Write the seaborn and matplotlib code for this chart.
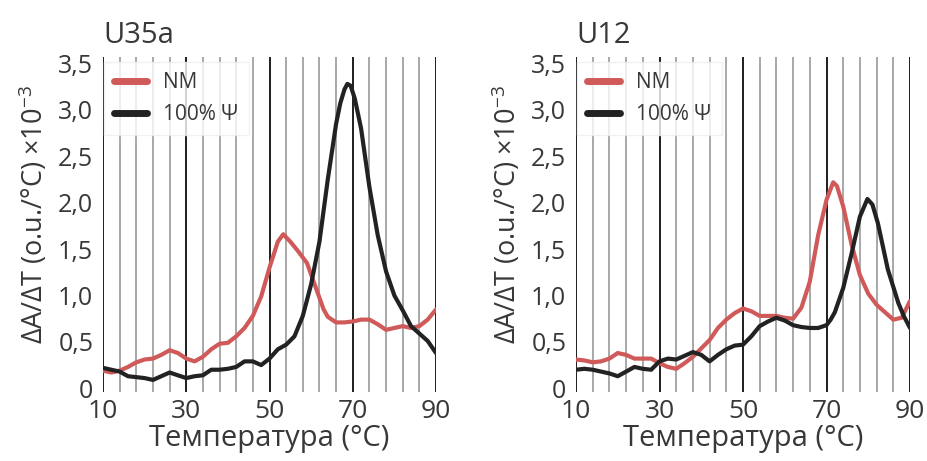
import numpy as np
import pandas as pd
import matplotlib
matplotlib.use("Agg")
import matplotlib.pyplot as plt
import seaborn as sns
from matplotlib.ticker import FixedLocator, FuncFormatter

# ---------------- data ----------------
panels = ["U35a", "U12"]
series_names = ["NM", "100% \u03a8"]

# U35a
u35_nm_t = [10, 12, 14, 16, 18, 20, 22, 24, 26, 28, 30, 32, 34, 36, 38, 40, 42, 44, 46, 48,
            50, 52, 53.3, 55, 57, 59, 61, 63, 64, 66, 68, 70, 72, 74, 76, 78, 80, 82, 84, 86, 88, 90]
u35_nm_v = [0.19, 0.17, 0.19, 0.23, 0.28, 0.31, 0.32, 0.36, 0.41, 0.38, 0.32, 0.29, 0.34, 0.42,
            0.48, 0.49, 0.56, 0.65, 0.78, 0.99, 1.30, 1.58, 1.66, 1.58, 1.47, 1.35, 1.10, 0.85,
            0.77, 0.71, 0.71, 0.72, 0.74, 0.74, 0.69, 0.63, 0.65, 0.67, 0.65, 0.67, 0.74, 0.85]
u35_psi_t = [10, 12, 14, 16, 18, 20, 22, 24, 26, 28, 30, 32, 34, 36, 38, 40, 42, 44, 46, 48,
             50, 52, 54, 56, 58, 60, 62, 64, 66, 67, 68, 68.7, 69.5, 70.5, 72, 74, 76, 78, 80,
             82, 84, 86, 88, 90]
u35_psi_v = [0.22, 0.20, 0.18, 0.13, 0.12, 0.11, 0.09, 0.13, 0.17, 0.14, 0.11, 0.13, 0.14, 0.20,
             0.20, 0.21, 0.23, 0.29, 0.29, 0.25, 0.32, 0.42, 0.47, 0.56, 0.78, 1.12, 1.58, 2.25,
             2.85, 3.07, 3.22, 3.28, 3.26, 3.12, 2.80, 2.17, 1.65, 1.26, 1.00, 0.84, 0.67, 0.59,
             0.51, 0.38]

# U12
u12_nm_t = [10, 12, 14, 16, 18, 20, 22, 24, 26, 28, 30, 32, 34, 36, 38, 40, 42, 44, 46, 48,
            50, 52, 54, 56, 58, 60, 62, 64, 66, 68, 70, 71.6, 72.5, 74, 76, 78, 80, 82, 84, 86,
            88, 90]
u12_nm_v = [0.31, 0.30, 0.28, 0.29, 0.32, 0.38, 0.36, 0.32, 0.32, 0.32, 0.27, 0.23, 0.21, 0.27,
            0.34, 0.43, 0.52, 0.65, 0.74, 0.81, 0.86, 0.83, 0.78, 0.78, 0.78, 0.76, 0.75, 0.87,
            1.15, 1.65, 2.03, 2.22, 2.18, 1.96, 1.55, 1.22, 1.02, 0.90, 0.82, 0.74, 0.76, 0.94]
u12_psi_t = [10, 12, 14, 16, 18, 20, 22, 24, 26, 28, 30, 32, 34, 36, 38, 40, 42, 44, 46, 48,
             50, 52, 54, 56, 58, 60, 62, 64, 66, 68, 70, 71, 72, 74, 76, 78, 79.8, 81, 82.3, 84.7,
             87.2, 88.5, 90]
u12_psi_v = [0.20, 0.21, 0.20, 0.18, 0.16, 0.13, 0.18, 0.23, 0.21, 0.20, 0.29, 0.32, 0.31, 0.35,
             0.39, 0.36, 0.29, 0.36, 0.42, 0.46, 0.47, 0.56, 0.67, 0.72, 0.76, 0.73, 0.68, 0.66,
             0.65, 0.65, 0.68, 0.74, 0.82, 1.08, 1.45, 1.85, 2.04, 1.98, 1.78, 1.28, 0.92, 0.78,
             0.65]

data = {
    "U35a": [(u35_nm_t, u35_nm_v), (u35_psi_t, u35_psi_v)],
    "U12": [(u12_nm_t, u12_nm_v), (u12_psi_t, u12_psi_v)],
}

major_ticks = [10, 30, 50, 70, 90]
minor_ticks = list(range(10, 91, 4))
y_ticks = [0, 0.5, 1.0, 1.5, 2.0, 2.5, 3.0, 3.5]

colors = ["#d05a5a", "#222222"]
text_color = "#383838"

# ---------------- style ----------------
sns.set_theme(style="white")
plt.rcParams["font.family"] = ["Open Sans", "DejaVu Sans"]
plt.rcParams["mathtext.fontset"] = "custom"
plt.rcParams["mathtext.rm"] = "Open Sans"
plt.rcParams["mathtext.it"] = "Open Sans"
plt.rcParams["text.color"] = text_color
plt.rcParams["axes.labelcolor"] = text_color
plt.rcParams["xtick.color"] = text_color
plt.rcParams["ytick.color"] = text_color

fig = plt.figure(figsize=(9.27, 4.61), dpi=100)
axes_pos = [[103 / 927, 1 - 392 / 461, 333 / 927, 335 / 461],
            [576 / 927, 1 - 392 / 461, 334 / 927, 335 / 461]]

def ytick_fmt(v, pos):
    if abs(v) < 1e-9:
        return "0"
    return f"{v:.1f}".replace(".", ",")

for pos, name in zip(axes_pos, panels):
    ax = fig.add_axes(pos)
    frames = []
    for sname, (t, v) in zip(series_names, data[name]):
        frames.append(pd.DataFrame({"T": t, "v": v, "series": sname}))
    df = pd.concat(frames, ignore_index=True)
    sns.lineplot(data=df, x="T", y="v", hue="series", palette=colors,
                 linewidth=3.0, ax=ax, sort=False, estimator=None, legend=True)

    ax.set_xlim(10, 90)
    ax.set_ylim(-0.04, 3.57)
    ax.xaxis.set_major_locator(FixedLocator(major_ticks))
    ax.xaxis.set_minor_locator(FixedLocator(minor_ticks))
    ax.set_yticks(y_ticks)
    ax.yaxis.set_major_formatter(FuncFormatter(ytick_fmt))
    ax.grid(False)
    ax.grid(True, axis="x", which="minor", color="#a8a8a8", linewidth=1.4, zorder=0)
    ax.grid(True, axis="x", which="major", color="#1e1e1e", linewidth=1.4, zorder=0)
    ax.set_axisbelow(True)
    for sp in ax.spines.values():
        sp.set_visible(False)
    ax.tick_params(axis="x", which="both", length=0, labelsize=19, pad=5)
    ax.tick_params(axis="y", which="both", length=0, labelsize=18, pad=7)

    ax.set_xlabel("Температура (°C)", fontsize=21, labelpad=0)
    ax.set_ylabel("ΔA/ΔT (o.u./°C) ×10$^{-3}$", fontsize=19.5)
    ax.yaxis.set_label_coords(-0.16, 0.53)
    ax.set_title(name, loc="left", fontsize=21, pad=10, color=text_color)

    leg = ax.legend(loc="upper left", bbox_to_anchor=(0.003, 0.985), borderaxespad=0,
                    fontsize=15, frameon=True, handlelength=1.55, handletextpad=0.8,
                    borderpad=0.5, labelspacing=0.5)
    leg.get_frame().set_facecolor("white")
    leg.get_frame().set_alpha(0.8)
    leg.get_frame().set_edgecolor("#eeeeee")
    leg.get_frame().set_boxstyle("square", pad=0)
    for line in leg.get_lines():
        line.set_linewidth(5)
        line.set_solid_capstyle("round")

fig.savefig("out.png", dpi=100)
